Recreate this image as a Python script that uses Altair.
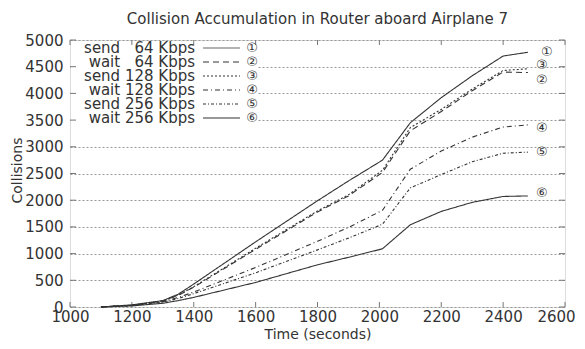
import altair as alt
import pandas as pd

# ---------------- data ----------------
times = [1100, 1200, 1300, 1350, 1400, 1600, 1800, 1900, 2010, 2100, 2200, 2300, 2400, 2480]

send_64 = [0, 40, 120, 240, 430, 1220, 1990, 2360, 2750, 3450, 3920, 4330, 4700, 4770]
wait_64 = [0, 35, 110, 220, 370, 1080, 1780, 2080, 2520, 3300, 3660, 4050, 4400, 4390]
send_128 = [0, 35, 110, 225, 380, 1100, 1800, 2100, 2560, 3360, 3700, 4080, 4430, 4460]
wait_128 = [0, 30, 100, 180, 280, 740, 1230, 1490, 1810, 2580, 2920, 3180, 3370, 3410]
send_256 = [0, 25, 90, 160, 250, 640, 1070, 1290, 1550, 2230, 2480, 2720, 2880, 2900]
wait_256 = [0, 20, 70, 120, 180, 460, 790, 930, 1090, 1540, 1790, 1960, 2070, 2080]

series_names = ["send\u2007 64 Kbps", "wait\u2007 64 Kbps", "send 128 Kbps",
                "wait 128 Kbps", "send 256 Kbps", "wait 256 Kbps"]
series_values = [send_64, wait_64, send_128, wait_128, send_256, wait_256]
markers = ["\u2460", "\u2461", "\u2462", "\u2463", "\u2464", "\u2465"]

x_ticks = [1000, 1200, 1400, 1600, 1800, 2000, 2200, 2400, 2600]
y_ticks = [0, 500, 1000, 1500, 2000, 2500, 3000, 3500, 4000, 4500, 5000]

# ---------------- styles ----------------
FONT = "DejaVu Sans"
INK = "#333333"
dashes = [[1, 0], [6, 4], [2, 2], [5, 3, 1, 3], [3, 2, 1, 2], [1, 0]]
key_colors = ["#999999", INK, INK, INK, INK, INK]
key_widths = [1.6, 1.1, 1.1, 1.1, 1.1, 1.1]
label_dy = [0, 7, -4, 3, 0, -3]
label_dx = [19, 14, 14, 14, 14, 14]
key_rows_y = [8, 22, 36, 50, 64, 78]

rows = []
for name, vals in zip(series_names, series_values):
    for t, v in zip(times, vals):
        rows.append({"series": name, "t": t, "v": v})
df = pd.DataFrame(rows)

dash_scale = alt.Scale(domain=series_names, range=dashes)

x_scale = alt.Scale(domain=[1000, 2600], nice=False)
y_scale = alt.Scale(domain=[0, 5000], nice=False)

x_axis = alt.Axis(values=x_ticks, grid=False, ticks=False, domain=False, format="d",
                  labelFlush=False, labelOverlap=False,
                  labelOffset={"condition": {"test": "datum.value >= 2600", "value": -9},
                               "value": 0},
                  labelFont=FONT, labelFontSize=15, labelColor=INK,
                  labelPadding=2, title="Time (seconds)", titleFont=FONT,
                  titleFontSize=14, titleFontWeight="normal", titleColor=INK,
                  titlePadding=3)
y_axis = alt.Axis(values=y_ticks, grid=True, gridColor="#999999", format="d",
                  labelFlush=False, labelOverlap=False,
                  gridDash=[2, 2], gridWidth=1, ticks=False, domain=False,
                  labelFont=FONT, labelFontSize=15, labelColor=INK,
                  labelPadding=7, title="Collisions", titleFont=FONT,
                  titleFontSize=14, titleFontWeight="normal", titleColor=INK,
                  titleX=-53, titleY=130, titleAngle=-90,
                  titleBaseline="middle", titleAlign="center")

X = lambda: alt.X("t:Q", scale=x_scale, axis=x_axis)
Y = lambda: alt.Y("v:Q", scale=y_scale, axis=y_axis)

lines = alt.Chart(df).mark_line(color=INK, strokeWidth=1.1).encode(
    x=X(), y=Y(),
    strokeDash=alt.StrokeDash("series:N", scale=dash_scale, legend=None),
    detail="series:N",
)

# white background of the key
key_bg = alt.Chart(pd.DataFrame({"a": [0]})).mark_rect(color="white").encode(
    x=alt.value(1), x2=alt.value(188), y=alt.value(1), y2=alt.value(86))

# inward ticks (gnuplot style)
xt = pd.DataFrame({"t": x_ticks})
yt = pd.DataFrame({"v": y_ticks})
tick_style = dict(color="#777777", strokeWidth=1)
xtick_b = alt.Chart(xt).mark_rule(**tick_style).encode(
    x=X(), y=alt.value(267), y2=alt.value(262))
xtick_t = alt.Chart(xt).mark_rule(**tick_style).encode(
    x=X(), y=alt.value(0), y2=alt.value(5))
ytick_l = alt.Chart(yt).mark_rule(**tick_style).encode(
    y=Y(), x=alt.value(0), x2=alt.value(6))
ytick_r = alt.Chart(yt).mark_rule(**tick_style).encode(
    y=Y(), x=alt.value(489), x2=alt.value(495))

# end-of-line circled markers
end_layers = []
for i, (name, vals) in enumerate(zip(series_names, series_values)):
    d = pd.DataFrame({"t": [times[-1]], "v": [vals[-1]], "m": [markers[i]]})
    end_layers.append(
        alt.Chart(d).mark_text(font=FONT, fontSize=13, color=INK, align="center",
                               baseline="middle", dx=label_dx[i], dy=label_dy[i]).encode(
            x=X(), y=Y(), text="m:N"))

# key (legend drawn gnuplot style: label, sample line, marker)
key_layers = []
for i, name in enumerate(series_names):
    kd = pd.DataFrame({"series": [name], "m": [markers[i]]})
    yy = key_rows_y[i]
    key_layers.append(alt.Chart(kd).mark_text(font=FONT, fontSize=15, color=INK,
                                              align="right", baseline="middle").encode(
        x=alt.value(125), y=alt.value(yy), text="series:N"))
    key_layers.append(alt.Chart(kd).mark_rule(color=key_colors[i], strokeWidth=key_widths[i],
                                              strokeDash=dashes[i]).encode(
        x=alt.value(133), x2=alt.value(170), y=alt.value(yy)))
    key_layers.append(alt.Chart(kd).mark_text(font=FONT, fontSize=13, color=INK,
                                              align="center", baseline="middle").encode(
        x=alt.value(182), y=alt.value(yy), text="m:N"))

chart = alt.layer(
    key_bg, xtick_b, xtick_t, ytick_l, ytick_r, lines, *end_layers, *key_layers,
).properties(
    width=495, height=267,
    title=alt.TitleParams("Collision Accumulation in Router aboard Airplane 7",
                          font=FONT, fontSize=15, fontWeight="normal", color=INK,
                          anchor="middle", offset=6),
    autosize=alt.AutoSizeParams(type="none"),
    padding={"left": 62, "top": 32, "right": 12, "bottom": 34},
).configure_view(stroke="#888888", strokeWidth=1).configure(background="white")

chart.save("out.html", embed_options={"renderer": "svg", "actions": False})
